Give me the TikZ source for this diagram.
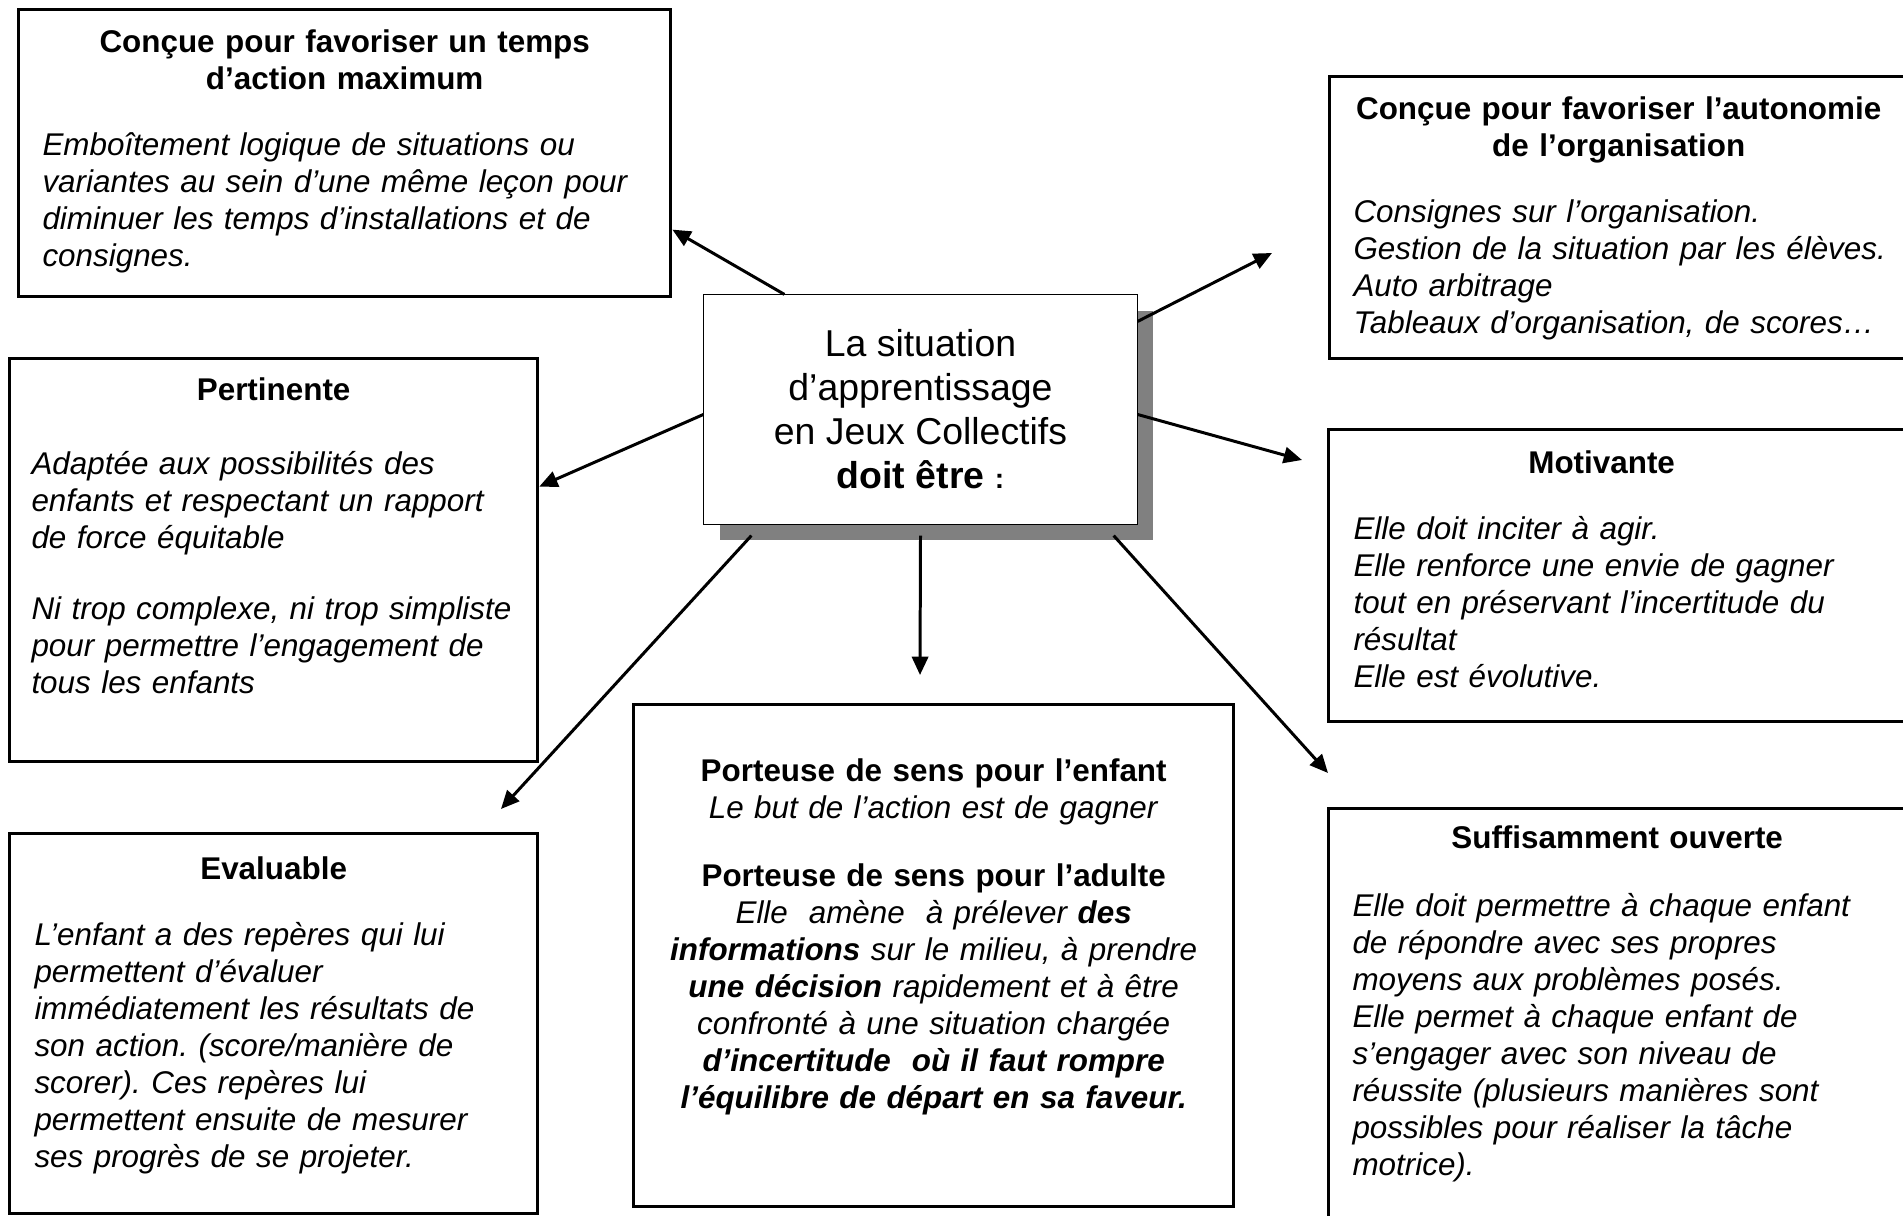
\documentclass[tikz,border=0pt]{standalone}
\usepackage{fontspec}
\setmainfont{Liberation Sans}
\usetikzlibrary{arrows.meta, shadows}

\frenchspacing
\newcommand{\corps}{\fontsize{8.93pt}{10.53pt}\selectfont\frenchspacing}
\newcommand{\fontcentre}{\fontsize{10.64pt}{12.52pt}\selectfont}
\newcommand{\cadretitre}[1]{{\centering\leftskip=-0.3cm plus 1fil\rightskip=-0.3cm plus 1fil
    \bfseries #1\par}\rightskip=-0.5cm plus 1fil}

\begin{document}
\begin{tikzpicture}[
    x=0.01cm, y=-0.01cm,
    cadre/.style={draw, line width=0.85pt, anchor=north west, inner ysep=0pt,
                  inner xsep=0.24cm, align=left, font=\corps},
    fleche/.style={-{Triangle[length=5.2pt,width=4.6pt]}, line width=0.85pt}
]
\useasboundingbox (0,0) rectangle (1903,1216);

\node[draw, line width=0.3pt, fill=white, minimum width=4.33cm, minimum height=2.29cm,
      inner sep=0pt, align=center, font=\fontcentre,
      drop shadow={shadow xshift=0.16cm, shadow yshift=-0.16cm, fill=gray, opacity=1}]
      (situation) at (920.5,409.5)
      {La situation\\ d’apprentissage\\ en Jeux Collectifs\\
       \textbf{doit être} {\fontsize{8pt}{10pt}\selectfont\bfseries :}};

\node[cadre, text width=6.04cm, text height=0.43cm, text depth=2.44cm] (temps) at (17,8)
      {\cadretitre{Conçue pour favoriser un temps\\ d’action maximum}\vspace{0.29cm}
       \itshape Emboîtement logique de situations ou\\ variantes au sein d’une même leçon pour\\
       diminuer les temps d’installations et de\\ consignes.};

\node[cadre, text width=5.30cm, text height=0.43cm, text depth=2.39cm] (autonomie) at (1328,75)
      {\cadretitre{Conçue pour favoriser l’autonomie\\ de l’organisation}\vspace{0.29cm}
       \itshape Consignes sur l’organisation.\\ Gestion de la situation par les élèves.\\
       Auto arbitrage\\ Tableaux d’organisation, de scores…};

\node[cadre, inner xsep=0.22cm, text width=4.84cm, text height=0.42cm, text depth=3.61cm] (pertinente) at (8,357)
      {\cadretitre{Pertinente}\vspace{0.37cm}
       \itshape Adaptée aux possibilités des\\ enfants et respectant un rapport\\ de force équitable\par
       \vspace{0.34cm}
       Ni trop complexe, ni trop simpliste\\ pour permettre l’engagement de\\ tous les enfants};

\node[cadre, inner xsep=0.25cm, text width=5.27cm, text height=0.44cm, text depth=2.48cm] (motivante) at (1327,428)
      {\cadretitre{Motivante\hspace*{0.31cm}}\vspace{0.29cm}
       \itshape Elle doit inciter à agir.\\ Elle renforce une envie de gagner\\
       tout en préservant l’incertitude du\\ résultat\\ Elle est évolutive.};

\node[cadre, inner xsep=0.25cm, text width=4.78cm, text height=0.46cm, text depth=3.34cm] (evaluable) at (8,832)
      {\cadretitre{Evaluable}\vspace{0.29cm}
       \itshape L’enfant a des repères qui lui\\ permettent d’évaluer\\ immédiatement les résultats de\\
       son action. (score/manière de\\ scorer). Ces repères lui\\ permettent ensuite de mesurer\\
       ses progrès de se projeter.};

\node[cadre, align=center, inner xsep=0.2cm, text width=5.6cm, text height=0.77cm, text depth=4.25cm] (sens) at (632,703)
      {\textbf{Porteuse de sens pour l’enfant}\\ \textit{Le but de l’action est de gagner}\par
       \vspace{0.31cm}
       \textbf{Porteuse de sens pour l’adulte}\\
       \itshape Elle\ \ amène\ \ à prélever \textbf{des}\\ \textbf{informations} sur le milieu, à prendre\\
       \textbf{une décision} rapidement et à être\\ confronté à une situation chargée\\
       \textbf{d’incertitude\ \ où il faut rompre}\\ \textbf{l’équilibre de départ en sa faveur.}};

\node[cadre, text width=5.29cm, text height=0.40cm, text depth=3.80cm] (suffisante) at (1327,807)
      {\cadretitre{Suffisamment ouverte}\vspace{0.31cm}
       \itshape Elle doit permettre à chaque enfant\\ de répondre avec ses propres\\
       moyens aux problèmes posés.\\ Elle permet à chaque enfant de\\ s’engager avec son niveau de\\
       réussite (plusieurs manières sont\\ possibles pour réaliser la tâche\\ motrice).};

\coordinate (pointeB) at (1272,253);
\coordinate (pointeM) at (1302,460);
\coordinate (pointeE) at (501,809);
\coordinate (pointeS) at (920,675);
\coordinate (pointeF) at (1328,773);

\draw[fleche] ([xshift=0.81cm]situation.north west) -- ([yshift=-0.765cm]temps.east);
\draw[fleche] ([yshift=-0.27cm]situation.north east) -- (pointeB);
\draw[fleche] ([yshift=-0.05cm]situation.west) -- ([yshift=0.735cm]pertinente.east);
\draw[fleche] ([yshift=-0.05cm]situation.east) -- (pointeM);
\draw[fleche] ([xshift=0.48cm,yshift=-0.11cm]situation.south west) -- (pointeE);
\draw[fleche] ([yshift=-0.11cm]situation.south) -- (pointeS);
\draw[fleche] ([xshift=-0.24cm,yshift=-0.11cm]situation.south east) -- (pointeF);

\end{tikzpicture}
\end{document}
